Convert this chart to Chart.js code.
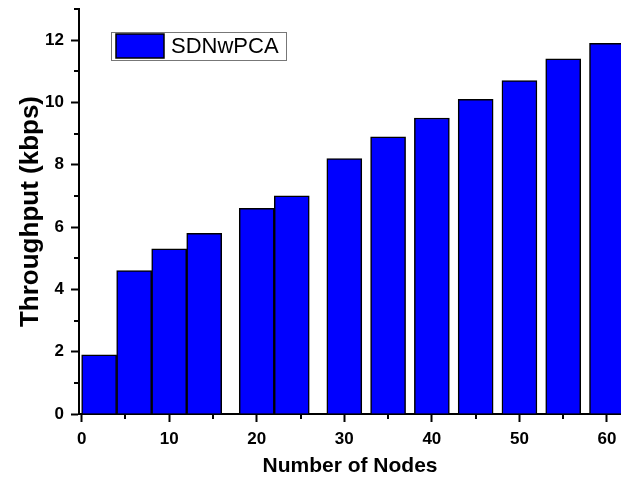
<!DOCTYPE html>
<html>
<head>
<meta charset="utf-8">
<script src="https://cdn.jsdelivr.net/npm/chart.js@4/dist/chart.umd.min.js"></script>
<style>
  html, body { margin: 0; padding: 0; background: #fff; overflow: hidden; }
  #wrap { width: 621px; height: 483px; }
</style>
</head>
<body>
<div id="wrap"><canvas id="chart"></canvas></div>
<script>
// values
const seriesLabel = "SDNwPCA";
const nodes = [2, 6, 10, 14, 20, 24, 30, 35, 40, 45, 50, 55, 60];
const throughput = [1.9, 4.6, 5.3, 5.8, 6.6, 7.0, 8.2, 8.9, 9.5, 10.1, 10.7, 11.4, 11.9];
const xTicks = [0, 10, 20, 30, 40, 50, 60];
const xMinorTicks = [5, 15, 25, 35, 45, 55];
const yTicks = [0, 2, 4, 6, 8, 10, 12];
const yMinorTicks = [1, 3, 5, 7, 9, 11, 13];

const FONT = "'Liberation Sans', Arial, sans-serif";

// short minor ticks, Origin style
const minorTicks = {
  id: "minorTicks",
  afterDraw(chart) {
    const { ctx, scales: { x, y }, chartArea } = chart;
    ctx.save();
    ctx.strokeStyle = "#000";
    ctx.lineWidth = 2;
    ctx.beginPath();
    xMinorTicks.forEach(v => {
      const px = Math.round(x.getPixelForValue(v));
      ctx.moveTo(px, chartArea.bottom);
      ctx.lineTo(px, chartArea.bottom + 5);
    });
    yMinorTicks.forEach(v => {
      const py = Math.round(y.getPixelForValue(v));
      ctx.moveTo(chartArea.left, py);
      ctx.lineTo(chartArea.left - 5, py);
    });
    ctx.stroke();
    ctx.restore();
  }
};

// boxed legend inside the plot
const boxLegend = {
  id: "boxLegend",
  afterDraw(chart) {
    const { ctx, chartArea } = chart;
    const ds = chart.data.datasets[0];
    const bx = chartArea.left + 32, by = chartArea.top + 23;
    const bw = 175, bh = 28;
    ctx.save();
    ctx.fillStyle = "#fff";
    ctx.fillRect(bx, by, bw, bh);
    ctx.strokeStyle = "#777";
    ctx.lineWidth = 1;
    ctx.strokeRect(bx + 0.5, by + 0.5, bw, bh);
    ctx.fillStyle = ds.backgroundColor;
    ctx.fillRect(bx + 5, by + 2, 48, 24);
    ctx.strokeStyle = "#000";
    ctx.lineWidth = 1.5;
    ctx.strokeRect(bx + 5, by + 2, 48, 24);
    ctx.fillStyle = "#000";
    ctx.font = "22px " + FONT;
    ctx.textBaseline = "middle";
    ctx.fillText(ds.label, bx + 60, by + bh / 2 + 1);
    ctx.restore();
  }
};

new Chart(document.getElementById("chart"), {
  type: "bar",
  data: {
    datasets: [{
      label: seriesLabel,
      data: nodes.map((n, i) => ({ x: n, y: throughput[i] })),
      backgroundColor: "#0000ff",
      borderColor: "#000",
      borderWidth: 1.5,
      barThickness: 35,
      clip: false
    }]
  },
  options: {
    responsive: true,
    maintainAspectRatio: false,
    animation: false,
    layout: { padding: { left: 0, right: 0, top: 9, bottom: 0 } },
    plugins: { legend: { display: false }, tooltip: { enabled: false } },
    scales: {
      x: {
        type: "linear",
        offset: false,
        min: -0.3,
        max: 61.6,
        afterBuildTicks: s => { s.ticks = xTicks.map(v => ({ value: v })); },
        afterFit: s => { s.height = 69; s.paddingLeft = 0; s.paddingRight = 0; },
        grid: { offset: false, drawOnChartArea: false, tickLength: 8, tickWidth: 2, tickColor: "#000" },
        border: { color: "#000", width: 2 },
        ticks: { color: "#000", padding: 7, maxRotation: 0, font: { family: FONT, size: 17, weight: "bold" } },
        title: {
          display: true, text: "Number of Nodes", color: "#000",
          font: { family: FONT, size: 21, weight: "bold" }, padding: { top: 0, bottom: 4 }
        }
      },
      y: {
        min: 0,
        max: 13,
        afterBuildTicks: s => { s.ticks = yTicks.map(v => ({ value: v })); },
        afterFit: s => { s.width = 79; s.paddingTop = 0; s.paddingBottom = 0; },
        grid: { drawOnChartArea: false, tickLength: 8, tickWidth: 2, tickColor: "#000" },
        border: { color: "#000", width: 2 },
        ticks: { color: "#000", padding: 7, font: { family: FONT, size: 17, weight: "bold" } },
        title: {
          display: true, text: "Throughput (kbps)", color: "#000",
          font: { family: FONT, size: 26, weight: "bold" }, padding: { top: 15, bottom: 0 }
        }
      }
    }
  },
  plugins: [minorTicks, boxLegend]
});
</script>
</body>
</html>
